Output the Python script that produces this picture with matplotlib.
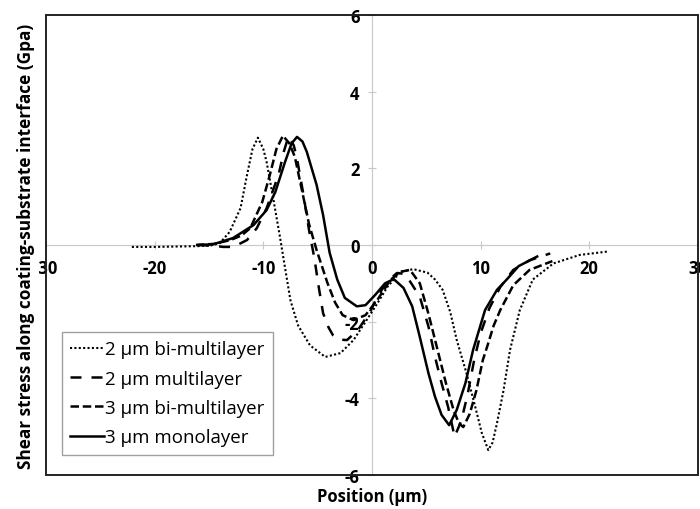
import matplotlib
matplotlib.use('Agg')
import matplotlib.pyplot as plt
from matplotlib.patches import Rectangle
from matplotlib.transforms import Bbox

plt.rcParams['font.family'] = ['Open Sans', 'DejaVu Sans']
plt.rcParams['axes.unicode_minus'] = False

# 2 um bi-multilayer (dotted)
x_bi2 = [-22.1, -20, -18, -16, -14.8, -14.0, -13.1, -12.1, -11.5, -11.0, -10.5, -10.0, -9.7, -9.1, -8.5,
         -8.0, -7.5, -6.8, -5.7, -4.3, -2.9, -1.7, -0.5, 0.5, 1.4, 2.6, 3.8, 5.1, 5.8, 6.5, 7.2,
         7.8, 8.7, 9.5, 10.1, 10.7, 11.1, 11.5, 12.1, 12.7, 13.6, 14.8, 16.7, 19.1, 21.7]
y_bi2 = [-0.05, -0.05, -0.04, -0.03, -0.01, 0.05, 0.34, 0.96, 1.83, 2.5, 2.8, 2.5, 2.17, 1.23, 0.26,
         -0.6, -1.45, -2.1, -2.62, -2.92, -2.82, -2.48, -1.96, -1.52, -1.1, -0.7, -0.63, -0.72, -0.9, -1.17, -1.75,
         -2.48, -3.35, -4.22, -4.9, -5.35, -5.15, -4.65, -3.8, -2.74, -1.7, -0.9, -0.48, -0.26, -0.17]

# 2 um multilayer (long dash)
x_ml2 = [-16, -14.5, -13.7, -12.8, -12.4, -11.5, -10.6, -9.7, -8.6, -8.1, -7.7, -7.2, -6.9, -6.3, -5.8,
         -5.3, -4.9, -4.5, -4.0, -3.6, -2.9, -2.3, -1.3, -0.2, 0.5, 1.4, 2.3, 2.9, 3.5, 4.4, 5.2,
         5.8, 6.4, 7.0, 7.6, 8.2, 8.8, 9.4, 10.0, 10.8, 11.8, 13.0, 14.5, 16.4]
y_ml2 = [0.0, -0.02, -0.05, -0.05, 0.0, 0.13, 0.44, 0.96, 1.83, 2.45, 2.82, 2.6, 2.25, 1.3, 0.4,
         -0.35, -1.1, -1.78, -2.15, -2.35, -2.47, -2.48, -2.22, -1.75, -1.35, -0.95, -0.73, -0.75, -0.95, -1.35, -2.13,
         -2.92, -3.6, -4.22, -5.0, -4.6, -3.9, -3.0, -2.3, -1.65, -1.1, -0.65, -0.4, -0.22]

# 3 um bi-multilayer (short dash)
x_bi3 = [-16.2, -14.5, -13.0, -12.0, -11.2, -10.1, -9.4, -8.8, -8.2, -7.6, -7.1, -6.5, -5.8, -5.1, -4.1,
         -3.4, -2.7, -1.7, -0.6, 0.5, 1.7, 2.6, 3.5, 4.4, 5.2, 6.0, 6.8, 7.5, 8.0, 8.4, 9.0,
         9.6, 10.2, 10.6, 11.2, 11.8, 13.0, 14.5, 16.6]
y_bi3 = [0.0, 0.03, 0.13, 0.25, 0.44, 1.12, 1.83, 2.5, 2.85, 2.65, 2.3, 1.5, 0.55, -0.13, -0.99,
         -1.5, -1.83, -1.96, -1.83, -1.43, -0.91, -0.7, -0.65, -1.0, -1.8, -2.7, -3.6, -4.3, -4.65, -4.75, -4.4,
         -3.8, -3.0, -2.65, -2.1, -1.7, -1.05, -0.65, -0.42]

# 3 um monolayer (solid)
x_mono = [-16, -14.6, -12.8, -10.9, -9.7, -8.9, -8.0, -7.4, -6.9, -6.4, -6.0, -5.1, -4.5, -3.9, -3.2,
          -2.5, -1.4, -0.6, 0.3, 1.2, 2.0, 2.9, 3.7, 4.4, 5.2, 5.8, 6.4, 7.1, 7.8, 8.6, 9.3,
          10.4, 11.5, 12.4, 13.5, 15.2]
y_mono = [0.0, 0.02, 0.18, 0.52, 0.91, 1.38, 2.17, 2.65, 2.82, 2.7, 2.43, 1.57, 0.78, -0.2, -0.9,
          -1.38, -1.6, -1.57, -1.3, -1.0, -0.89, -1.12, -1.6, -2.4, -3.35, -3.96, -4.43, -4.7, -4.3, -3.6, -2.74,
          -1.7, -1.17, -0.9, -0.55, -0.3]

labels = ['2 µm bi-multilayer', '2 µm multilayer', '3 µm bi-multilayer', '3 µm monolayer']
xticks = [-30, -20, -10, 0, 10, 20, 30]
yticks = [-6, -4, -2, 0, 2, 4, 6]

fig = plt.figure(figsize=(7, 5.1), dpi=100)
ax = fig.add_axes([46/700, 1 - 476/510, 652/700, 460/510])

ax.plot(x_bi2, y_bi2, color='black', lw=1.5, linestyle=(0, (1, 1.1)), label=labels[0])
ax.plot(x_ml2, y_ml2, color='black', lw=1.8, linestyle=(0, (4.4, 4.0)), label=labels[1])
ax.plot(x_bi3, y_bi3, color='black', lw=1.8, linestyle=(0, (3.4, 1.5)), label=labels[2])
ax.plot(x_mono, y_mono, color='black', lw=1.8, linestyle='-', label=labels[3])

ax.set_xlim(-30, 30)
ax.set_ylim(-6, 6)
ax.set_xticks(xticks)
ax.set_yticks(yticks)

# axes crossing at the origin, Excel style
for s in ['top', 'right']:
    ax.spines[s].set_visible(False)
ax.spines['left'].set_position(('data', 0))
ax.spines['bottom'].set_position(('data', 0))
ax.spines['left'].set_color('#c8c8c8')
ax.spines['bottom'].set_color('#c8c8c8')
ax.spines['left'].set_zorder(0)
ax.spines['bottom'].set_zorder(0)
ax.tick_params(direction='inout', length=6, color='#c8c8c8', labelsize=12)
ax.tick_params(axis='x', pad=7)
ax.tick_params(axis='y', pad=6)
for lab in ax.get_xticklabels() + ax.get_yticklabels():
    lab.set_fontweight('bold')

# plot area border
ax.add_patch(Rectangle((0, 0), 1, 1, transform=ax.transAxes, fill=False,
                       edgecolor='#222222', lw=1.4, clip_on=False, zorder=5))

ax.set_xlabel('Position (µm)', fontsize=12, fontweight='bold', va='center')
ax.xaxis.set_label_coords(0.5, -0.046)
ax.set_ylabel('Shear stress along coating-substrate interface (Gpa)', fontsize=12.4, fontweight='bold',
              va='center')
ax.yaxis.set_label_coords(-0.031, 0.5)

leg = ax.legend(loc='upper left', bbox_to_anchor=(62/700, 1 - 333/510), bbox_transform=fig.transFigure,
                fontsize=13.5, frameon=True, fancybox=False, handlelength=1.8, handletextpad=0.05,
                borderpad=0.45, labelspacing=0.6, borderaxespad=0)
leg.get_frame().set_edgecolor('#888888')
leg.get_frame().set_linewidth(1.0)

fig.canvas.draw()
# leftmost tick label is cut by the y-axis title area in the original
for lab in ax.get_xticklabels():
    if lab.get_position()[0] == -30:
        lab.set_clip_box(Bbox.from_extents(39, 0, 700, 510))
        lab.set_clip_on(True)

fig.savefig('out.png', dpi=100)
